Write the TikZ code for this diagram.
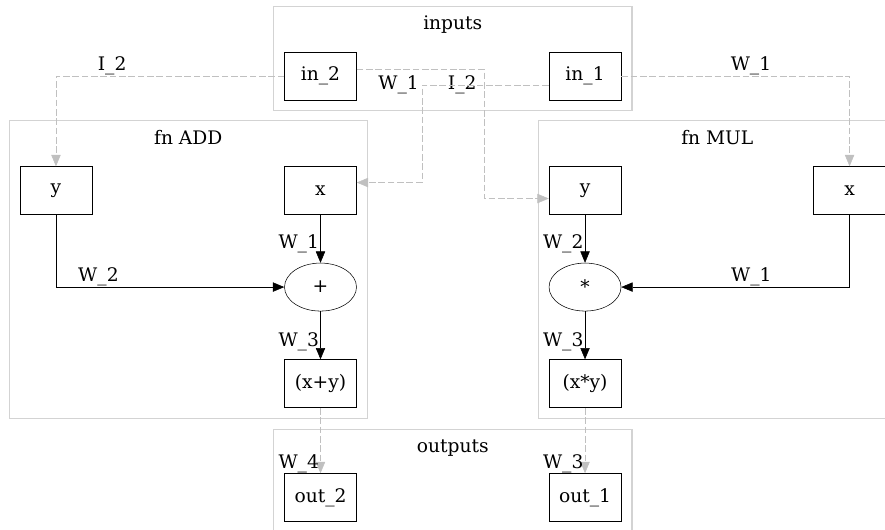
\documentclass[tikz,border=0pt]{standalone}
\usepackage{fontspec}
\setmainfont{DejaVu Serif}
\usepackage{xcolor}
\usetikzlibrary{positioning}
\usetikzlibrary{shapes.geometric,arrows.meta,calc,fit}
\definecolor{edgegray}{HTML}{C0C0C0}
\definecolor{clustergray}{HTML}{D3D3D3}
\tikzset{
    -{Triangle[length=8.5pt,width=7pt]},node distance =36pt and 144pt,line width=1pt,
    box/.style ={rectangle, draw, minimum width = 54pt, minimum height = 36pt, inner sep=2pt},
    op/.style ={ellipse, draw, minimum width = 54pt, minimum height = 36pt, inner sep=1pt},
    cluster/.style = {draw=clustergray, line width=0.8pt, inner sep=8pt},
    ctitle/.style = {anchor=base, yshift=-18pt, inner sep=0pt},
    flow/.style={draw=edgegray, dash pattern=on 5pt off 2pt, -{Triangle[length=8.5pt,width=7pt,fill=edgegray]}},
    wl/.style = {inner sep=1pt}
}

\begin{document}
\begin{tikzpicture}[x=0.75pt,y=-0.75pt,font=\fontsize{14pt}{17pt}\selectfont]
        \useasboundingbox (0,0) rectangle (885,529);
        % inputs
        \node[box] (in2) at (320.5,76) {in\_2};
        \node[box] (xA) [below =49.5pt of in2] {x};
        \node[box] (yA) [left =of xA] {y};
        \node[op] (plus) [below =of xA] {+};
        \node[box] (sumA) [below =of plus] {(x+y)};
        \node[box] (yM) [right =of xA] {y};
        \node[box] (xM) [right =of yM] {x};
        \node[op] (mul) [below =of yM] {*};
        \node[box] (prodM) [below =of mul] {(x*y)};
        \node[box] (in1) [above =49.5pt of yM] {in\_1};
        \node[box] (out2) [below =49pt of sumA] {out\_2};
        \node[box] (out1) [below =49pt of prodM] {out\_1};

        % clusters
        \coordinate (intop) at ($(in2.north)+(0,26pt)$);
        \coordinate (addtop) at ($(xA.north)+(0,26pt)$);
        \coordinate (multop) at ($(yM.north)+(0,26pt)$);
        \coordinate (outtop) at ($(out2.north)+(0,25pt)$);
        \node[cluster, fit=(in2)(in1)(intop), label={[ctitle]north:inputs}] (inputs) {};
        \node[cluster, fit=(yA)(xA)(sumA)(addtop), label={[ctitle]north:fn ADD}] (add) {};
        \node[cluster, fit=(yM)(xM)(prodM)(multop), label={[ctitle]north:fn MUL}] (mult) {};
        \node[cluster, fit=(out2)(out1)(outtop), label={[ctitle]north:outputs}] (outputs) {};

        % fn ADD
        \path (xA) edge node[wl, left, pos=0.61] {W\_1} (plus);
        \draw (yA) |- node[wl, above, pos=0.593] {W\_2} (plus);
        \path (plus) edge node[wl, left, pos=0.64] {W\_3} (sumA);

        % fn MUL
        \path (yM) edge node[wl, left, pos=0.61] {W\_2} (mul);
        \draw (xM) |- node[wl, above, pos=0.715] {W\_1} (mul);
        \path (mul) edge node[wl, left, pos=0.64] {W\_3} (prodM);

        % wires between blocks
        \draw[flow] (in2) -| node[wl, above, pos=0.377] {I\_2} (yA);
        \draw[flow] (in1) -| node[wl, above, pos=0.284] {W\_1} (xM);
        \draw[flow] ($(in2.east)+(0,5.25pt)$) -- ++(95.25pt,0) node[below, pos=0.83, inner sep=4.5pt] {I\_2} |- ($(yM.west)+(0,-6pt)$);
        \draw[flow] ($(in1.west)+(0,-6.75pt)$) -- ++(-95.25pt,0) node[pos=1, anchor=east, inner sep=2pt] {W\_1} |- ($(xA.east)+(0,6pt)$);
        \path[flow] (sumA) edge node[wl, left, pos=0.85] {W\_4} (out2);
        \path[flow] (prodM) edge node[wl, left, pos=0.85] {W\_3} (out1);

    \end{tikzpicture}
\end{document}
